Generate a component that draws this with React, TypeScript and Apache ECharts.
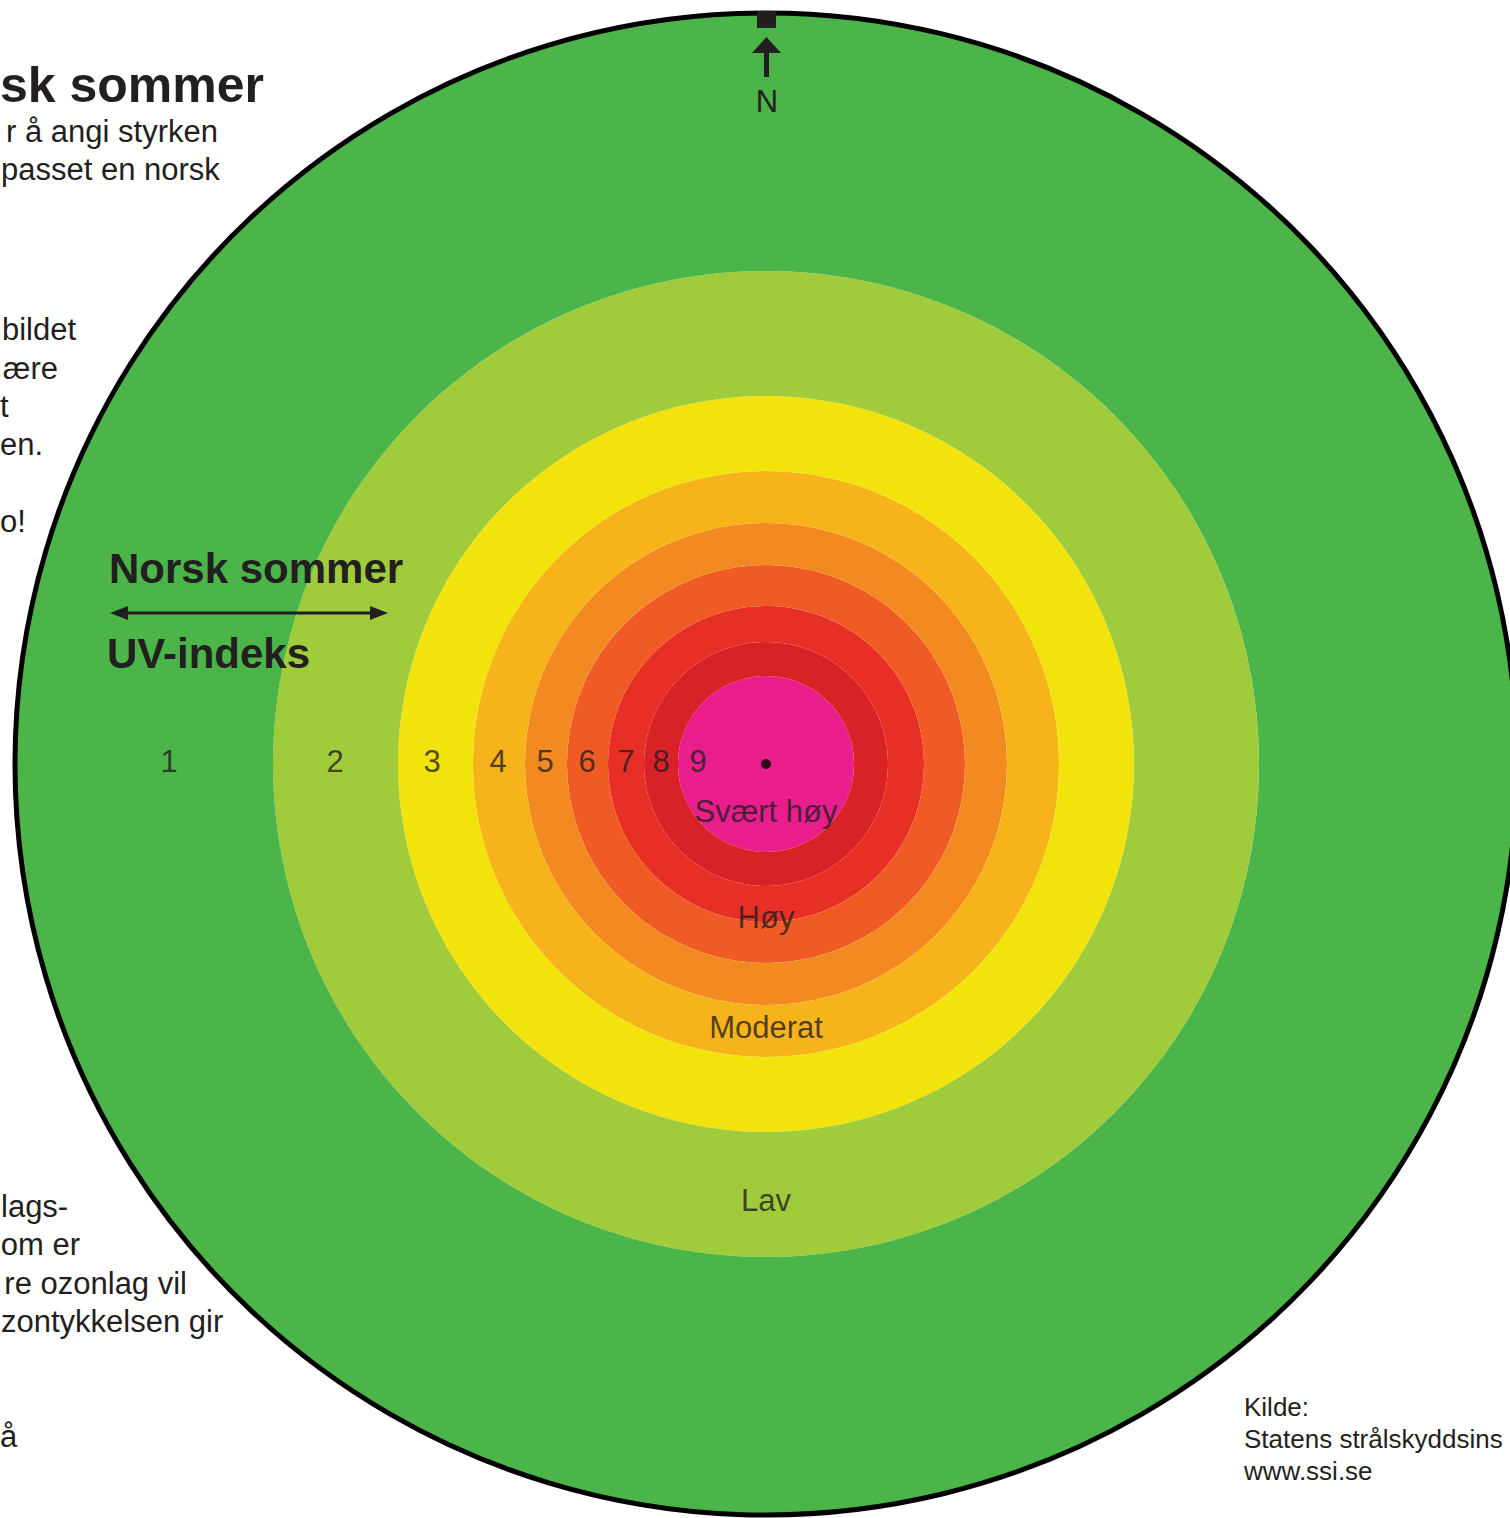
import React, { useEffect, useRef } from "react";
import * as echarts from "echarts";

// UV levels, from the outermost ring (1) to the centre (9)
const uvLevels = ["1", "2", "3", "4", "5", "6", "7", "8", "9"];
// outer radius of each ring on the radius axis
const ringOuterRadius = [751, 493, 368, 293, 241, 199, 158, 122, 88];
const ringColors = ["#4cb549", "#a0cb3a", "#f3e30c", "#f6b31a", "#f38a21", "#f05a24", "#e72f25", "#d92128", "#e91d8c"];
// radius where each number label sits (left side)
const numberRadius = [597, 431, 334, 268, 221, 179, 140, 105, 68];
// category names placed under the centre
const levelNames = ["Lav", "Moderat", "Høy", "Svært høy"];
const levelRadius = [436, 263, 153, 47];

// fragments of the surrounding article text
const leftTextLines = [
  { t: "r å angi styrken", x: 218, y: 131, a: "right" },
  { t: "passet en norsk", x: 1, y: 169, a: "left" },
  { t: "bildet", x: 76, y: 329, a: "right" },
  { t: "ære", x: 58, y: 368, a: "right" },
  { t: "t", x: 0, y: 406, a: "left" },
  { t: "en.", x: 0, y: 444, a: "left" },
  { t: "o!", x: 0, y: 521, a: "left" },
  { t: "lags-", x: 1, y: 1206, a: "left" },
  { t: "om er", x: 80, y: 1244, a: "right" },
  { t: "re ozonlag vil", x: 187, y: 1283, a: "right" },
  { t: "zontykkelsen gir", x: 1, y: 1321, a: "left" },
  { t: "å", x: 0, y: 1436, a: "left" },
];
const sourceLines = ["Kilde:", "Statens strålskyddsins", "www.ssi.se"];

const FONT = '"Liberation Sans", Arial, Helvetica, sans-serif';
const INK = "#231f20";
const CX = 766;
const CY = 764;

export default function App() {
  const ref = useRef<HTMLDivElement>(null);
  useEffect(() => {
    if (!ref.current) return;
    const chart = echarts.init(ref.current, undefined, { renderer: "svg" });

    const ringSeries: any[] = [];
    for (let i = uvLevels.length - 1; i >= 0; i--) {
      const inner = i + 1 < ringOuterRadius.length ? ringOuterRadius[i + 1] : 0;
      ringSeries.push({
        type: "bar",
        name: "UV " + uvLevels[i],
        coordinateSystem: "polar",
        polarIndex: 0,
        stack: "uv",
        barCategoryGap: "0%",
        silent: true,
        itemStyle: { color: ringColors[i] },
        data: [ringOuterRadius[i] - inner],
      });
    }

    const labelBase = { show: true, position: "inside", formatter: "{b}", color: INK, fontFamily: FONT, fontSize: 31 };

    const graphics: any[] = [
      {
        type: "circle",
        z: 10,
        shape: { cx: CX, cy: CY, r: 751 },
        style: { fill: "none", stroke: "#000", lineWidth: 5 },
      },
      { type: "rect", z: 11, shape: { x: 757, y: 11, width: 19, height: 17 }, style: { fill: INK } },
      { type: "polygon", z: 11, shape: { points: [[766.5, 37], [752, 53], [781, 53]] }, style: { fill: INK } },
      { type: "rect", z: 11, shape: { x: 764, y: 52, width: 5, height: 25 }, style: { fill: INK } },
      {
        type: "text", z: 11, x: 767, y: 101,
        style: { text: "N", font: `31px ${FONT}`, fill: INK, textAlign: "center", textVerticalAlign: "middle" },
      },
      {
        type: "text", z: 11, x: 0, y: 85,
        style: { text: "sk sommer", font: `bold 50px ${FONT}`, fill: INK, textAlign: "left", textVerticalAlign: "middle" },
      },
      {
        type: "text", z: 11, x: 109, y: 568,
        style: { text: "Norsk sommer", font: `bold 42px ${FONT}`, fill: INK, textAlign: "left", textVerticalAlign: "middle" },
      },
      {
        type: "text", z: 11, x: 107, y: 653,
        style: { text: "UV-indeks", font: `bold 42px ${FONT}`, fill: INK, textAlign: "left", textVerticalAlign: "middle" },
      },
      { type: "line", z: 11, shape: { x1: 122, y1: 613, x2: 376, y2: 613 }, style: { stroke: INK, lineWidth: 3 } },
      { type: "polygon", z: 11, shape: { points: [[110, 613], [128, 606], [128, 620]] }, style: { fill: INK } },
      { type: "polygon", z: 11, shape: { points: [[388, 613], [370, 606], [370, 620]] }, style: { fill: INK } },
      ...leftTextLines.map((l) => ({
        type: "text", z: 11, x: l.x, y: l.y,
        style: { text: l.t, font: `31px ${FONT}`, fill: INK, textAlign: l.a, textVerticalAlign: "middle" },
      })),
      ...sourceLines.map((t, i) => ({
        type: "text", z: 11, x: 1244, y: 1407 + i * 32,
        style: { text: t, font: `26px ${FONT}`, fill: INK, textAlign: "left", textVerticalAlign: "middle" },
      })),
    ];

    chart.setOption({
      animation: false,
      backgroundColor: "#ffffff",
      polar: [
        { center: [CX, CY], radius: 751 },
        { center: [CX, CY], radius: 751 },
      ],
      angleAxis: [
        { polarIndex: 0, type: "category", data: ["UV"], startAngle: 90, show: false },
        { polarIndex: 1, type: "value", min: 0, max: 360, startAngle: 90, show: false },
      ],
      radiusAxis: [
        { polarIndex: 0, type: "value", min: 0, max: 751, show: false },
        { polarIndex: 1, type: "value", min: 0, max: 751, show: false },
      ],
      series: [
        ...ringSeries,
        {
          type: "scatter",
          name: "numbers",
          coordinateSystem: "polar",
          polarIndex: 1,
          symbolSize: 1,
          silent: true,
          itemStyle: { color: "rgba(0,0,0,0)" },
          label: { ...labelBase, offset: [0, -3] },
          data: numberRadius.map((r, i) => ({ name: uvLevels[i], value: [r, 270] })),
          z: 5,
        },
        {
          type: "scatter",
          name: "levels",
          coordinateSystem: "polar",
          polarIndex: 1,
          symbolSize: 1,
          silent: true,
          itemStyle: { color: "rgba(0,0,0,0)" },
          label: { ...labelBase },
          data: levelNames.map((n, i) => ({ name: n, value: [levelRadius[i], 180] })),
          z: 5,
        },
        {
          type: "scatter",
          name: "centre",
          coordinateSystem: "polar",
          polarIndex: 1,
          symbolSize: 10,
          silent: true,
          itemStyle: { color: "#000" },
          data: [[0, 0]],
          z: 6,
        },
      ],
      graphic: graphics,
    });
    return () => chart.dispose();
  }, []);

  return (
    <div
      ref={ref}
      style={{ position: "absolute", left: 0, top: 0, width: 1510, height: 1518, background: "#fff" }}
    />
  );
}
